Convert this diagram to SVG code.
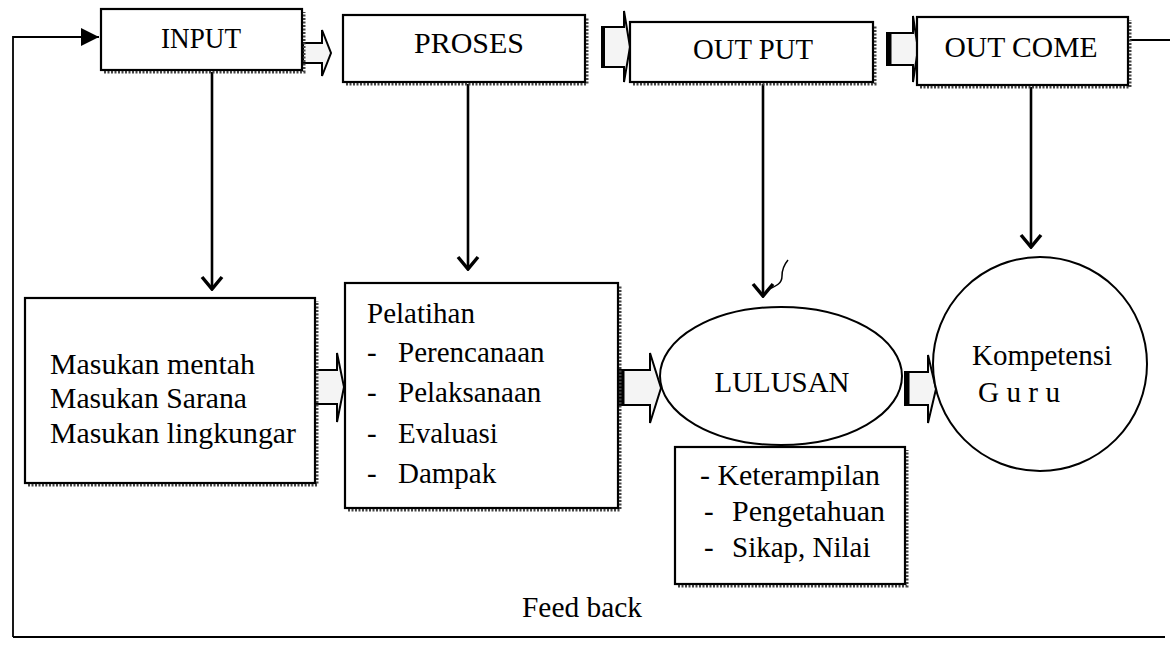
<svg xmlns="http://www.w3.org/2000/svg" width="1170" height="648" viewBox="0 0 1170 648">
<style>
  .box{fill:#fff;stroke:#000;stroke-width:2.2}
  .shadow{fill:none;stroke:#444;stroke-width:3;stroke-dasharray:2 1.5}
  .t{font-family:'Liberation Serif','DejaVu Serif','Noto Serif',Tinos,serif;font-size:29px;fill:#000}
  .blk{fill:#f4f4f4;stroke:#000;stroke-width:2}
  .ln{fill:none;stroke:#000;stroke-width:2.6}
  .fb{fill:none;stroke:#000;stroke-width:1.8}
</style>
<defs>
  <marker id="vhead" viewBox="-16 -13 18 26" refX="0" refY="0" markerWidth="18" markerHeight="26" markerUnits="userSpaceOnUse" orient="auto">
    <path d="M-12,-10 L0,0 L-12,10" fill="none" stroke="#000" stroke-width="3.5" stroke-linejoin="miter"/>
  </marker>
  <marker id="tri" viewBox="-20 -10 21 20" refX="0" refY="0" markerWidth="21" markerHeight="20" markerUnits="userSpaceOnUse" orient="auto">
    <path d="M-18,-9 L0,0 L-18,9 Z" fill="#000"/>
  </marker>
</defs>

<g id="connectors">
  <path class="fb" d="M13,637 L13,37 L99,37" marker-end="url(#tri)"/>
  <path class="fb" d="M13,637 L1165,637"/>
  <path class="fb" d="M1130,40 L1170,40"/>
  <path class="ln" d="M212,72 L212,289" marker-end="url(#vhead)"/>
  <path class="ln" d="M468,84 L468,269" marker-end="url(#vhead)"/>
  <path class="ln" d="M763,84 L763,296" marker-end="url(#vhead)"/>
  <path d="M767,290 C776,286 782,284 782,276 C782,270 783,266 788,260" fill="none" stroke="#000" stroke-width="1.5"/>
  <path class="ln" d="M1031,87 L1031,247" marker-end="url(#vhead)"/>
  <path class="blk" d="M303,43 L322,43 L322,30 L331,53 L322,76 L322,63 L303,63 Z"/>
  <path class="blk" d="M602,27 L624,27 L624,11 L630,47 L624,82 L624,67 L602,67 Z"/>
  <line x1="603" y1="27" x2="603" y2="67" stroke="#000" stroke-width="4"/>
  <path class="blk" d="M887,33 L913,33 L913,16 L918,49 L913,82 L913,65 L887,65 Z"/>
  <line x1="889" y1="33" x2="889" y2="65" stroke="#000" stroke-width="5"/>
  <path class="blk" d="M315,370 L337,370 L337,353 L344,387 L337,422 L337,404 L315,404 Z"/>
  <path class="blk" d="M620,370 L650,370 L650,353 L661,388 L650,423 L650,405 L620,405 Z"/>
  <line x1="622" y1="370" x2="622" y2="405" stroke="#000" stroke-width="5"/>
  <path class="blk" d="M905,372 L928,372 L928,355 L936,389 L928,423 L928,405 L905,405 Z"/>
  <line x1="907" y1="372" x2="907" y2="405" stroke="#000" stroke-width="5"/>
  <text class="t" x="582" y="617" text-anchor="middle" textLength="120" lengthAdjust="spacingAndGlyphs">Feed back</text>
</g>

<g id="input">
  <path class="shadow" d="M104,72 L304,72 L304,12"/>
  <rect class="box" x="101" y="9" width="201" height="61"/>
  <text class="t" x="201" y="48" text-anchor="middle" textLength="80" lengthAdjust="spacingAndGlyphs">INPUT</text>
</g>

<g id="proses">
  <path class="shadow" d="M346,84 L587,84 L587,18"/>
  <rect class="box" x="343" y="15" width="242" height="67"/>
  <text class="t" x="469" y="53" text-anchor="middle" textLength="110" lengthAdjust="spacingAndGlyphs">PROSES</text>
</g>

<g id="output">
  <path class="shadow" d="M633,84 L875,84 L875,25"/>
  <rect class="box" x="630" y="22" width="243" height="60"/>
  <text class="t" x="753" y="59" text-anchor="middle" textLength="120" lengthAdjust="spacingAndGlyphs">OUT PUT</text>
</g>

<g id="outcome">
  <path class="shadow" d="M920,87 L1130,87 L1130,20"/>
  <rect class="box" x="917" y="17" width="211" height="68"/>
  <text class="t" x="1021" y="57" text-anchor="middle" textLength="153" lengthAdjust="spacingAndGlyphs">OUT COME</text>
</g>

<g id="masukan">
  <path class="shadow" d="M28,485 L317,485 L317,301"/>
  <rect class="box" x="25" y="298" width="290" height="185"/>
  <text class="t" x="50" y="374" textLength="205" lengthAdjust="spacingAndGlyphs">Masukan mentah</text>
  <text class="t" x="50" y="408" textLength="197" lengthAdjust="spacingAndGlyphs">Masukan Sarana</text>
  <text class="t" x="50" y="443" textLength="246" lengthAdjust="spacingAndGlyphs">Masukan lingkungar</text>
</g>

<g id="pelatihan">
  <path class="shadow" d="M348,510 L620,510 L620,286"/>
  <rect class="box" x="345" y="283" width="273" height="225"/>
  <text class="t" x="367" y="323">Pelatihan</text>
  <text class="t" x="367" y="362">-</text>
  <text class="t" x="398" y="362">Perencanaan</text>
  <text class="t" x="367" y="402">-</text>
  <text class="t" x="398" y="402">Pelaksanaan</text>
  <text class="t" x="367" y="443">-</text>
  <text class="t" x="398" y="443">Evaluasi</text>
  <text class="t" x="367" y="483">-</text>
  <text class="t" x="398" y="483">Dampak</text>
</g>

<g id="lulusan">
  <ellipse cx="781" cy="376" rx="121" ry="69" fill="#fff" stroke="#000" stroke-width="2"/>
  <text class="t" x="782" y="392" text-anchor="middle" textLength="135" lengthAdjust="spacingAndGlyphs">LULUSAN</text>
</g>

<g id="hasil">
  <path class="shadow" d="M678,586 L907,586 L907,450"/>
  <rect class="box" x="675" y="447" width="230" height="137"/>
  <text class="t" x="700" y="485" textLength="180" lengthAdjust="spacingAndGlyphs">- Keterampilan</text>
  <text class="t" x="704" y="521">-</text>
  <text class="t" x="732" y="521" textLength="153" lengthAdjust="spacingAndGlyphs">Pengetahuan</text>
  <text class="t" x="704" y="557">-</text>
  <text class="t" x="732" y="557">Sikap, Nilai</text>
</g>

<g id="kompetensi">
  <circle cx="1040" cy="364" r="107" fill="#fff" stroke="#000" stroke-width="2"/>
  <text class="t" x="972" y="365" textLength="140" lengthAdjust="spacingAndGlyphs">Kompetensi</text>
  <text class="t" x="978" y="402" textLength="82" lengthAdjust="spacingAndGlyphs">G u r u</text>
</g>
</svg>
